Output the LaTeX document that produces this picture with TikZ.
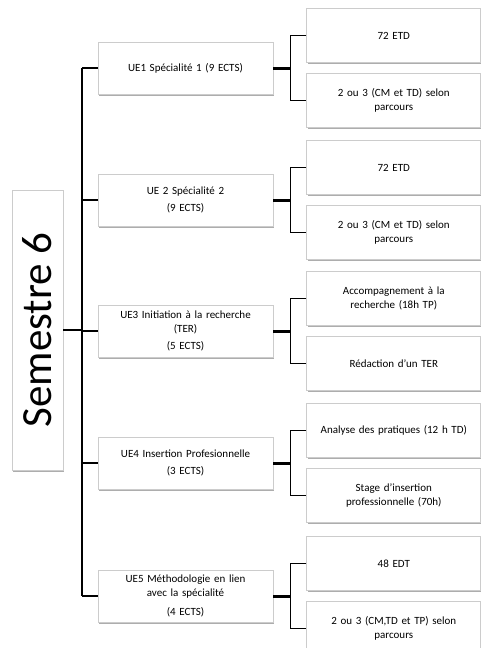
\documentclass[tikz,border=0pt]{standalone}
\usepackage{fontspec}
\setmainfont{Carlito}
\usetikzlibrary{positioning, shadows}
\tikzset{
  box/.style    = {draw=gray!40, fill=white, line width=0.8pt, align=center,
                   font=\fontsize{11}{13.4}\selectfont,
                   drop shadow={shadow xshift=1.2pt, shadow yshift=-1.8pt,
                                fill=black!40, opacity=0.8}},
  uebox/.style  = {box, text width=167pt, inner xsep=4pt, minimum height=52pt},
  subbox/.style = {box, text width=166pt, inner xsep=4pt, minimum height=54pt},
  trunk/.style  = {line width=2.4pt},
  fork/.style   = {line width=1.8pt},
  stub/.style   = {line width=3pt}
}

\begin{document}
\begin{tikzpicture}[x=1pt, y=-1pt]
  \useasboundingbox (0,0) rectangle (481,648);
  % root
  \node[box, minimum width=51pt, minimum height=280pt, inner sep=0pt] (sem) at (37.5,330)
    {\rotatebox{90}{\fontsize{43}{50}\selectfont Semestre 6}};
  \coordinate (tr) at (82,0);
  % teaching units
  \node[uebox] (ue1) at (185.5,68)  {UE1 Spécialité 1 (9 ECTS)};
  \node[uebox] (ue2) at (185.5,200) {UE 2 Spécialité 2\\[4pt](9 ECTS)};
  \node[uebox] (ue3) at (185.5,331) {UE3 Initiation à la recherche\\(TER)\\[4pt](5 ECTS)};
  \node[uebox] (ue4) at (185.5,463) {UE4 Insertion Profesionnelle\\[4pt](3 ECTS)};
  \node[uebox] (ue5) at (185.5,596) {UE5 Méthodologie en lien\\avec la spécialité\\[6pt](4 ECTS)};
  % details
  \node[subbox, right=33pt of ue1, yshift= 32.5pt] (ue1a) {72 ETD};
  \node[subbox, right=33pt of ue1, yshift=-32.5pt] (ue1b) {2 ou 3 (CM et TD) selon\\parcours};
  \node[subbox, right=33pt of ue2, yshift= 32.5pt] (ue2a) {72 ETD};
  \node[subbox, right=33pt of ue2, yshift=-32.5pt] (ue2b) {2 ou 3 (CM et TD) selon\\parcours};
  \node[subbox, right=33pt of ue3, yshift= 32.5pt] (ue3a) {Accompagnement à la\\recherche (18h TP)};
  \node[subbox, right=33pt of ue3, yshift=-32.5pt] (ue3b) {Rédaction d’un TER};
  \node[subbox, right=33pt of ue4, yshift= 32.5pt] (ue4a) {\mbox{Analyse des pratiques (12 h TD)}};
  \node[subbox, right=33pt of ue4, yshift=-32.5pt] (ue4b) {Stage d’insertion\\professionnelle (70h)};
  \node[subbox, right=33pt of ue5, yshift= 32.5pt] (ue5a) {48 EDT};
  \node[subbox, right=33pt of ue5, yshift=-32.5pt] (ue5b) {2 ou 3 (CM,TD et TP) selon\\parcours};
  % trunk
  \draw[trunk] (sem.east) -- (sem.east -| tr);
  \draw[trunk] (ue1.west -| tr) -- (ue5.west -| tr);
  \draw[trunk] (ue1.west -| tr) -- (ue1.west);
  \draw[trunk] (ue2.west -| tr) -- (ue2.west);
  \draw[trunk] (ue3.west -| tr) -- (ue3.west);
  \draw[trunk] (ue4.west -| tr) -- (ue4.west);
  \draw[trunk] (ue5.west -| tr) -- (ue5.west);
  % forks
  \draw[stub] (ue1.east) -- ++(17,0) coordinate (f1);
  \draw[stub] (ue2.east) -- ++(17,0) coordinate (f2);
  \draw[stub] (ue3.east) -- ++(17,0) coordinate (f3);
  \draw[stub] (ue4.east) -- ++(17,0) coordinate (f4);
  \draw[stub] (ue5.east) -- ++(17,0) coordinate (f5);
  \draw[fork] (ue1a.west) -| (f1) |- (ue1b.west);
  \draw[fork] (ue2a.west) -| (f2) |- (ue2b.west);
  \draw[fork] (ue3a.west) -| (f3) |- (ue3b.west);
  \draw[fork] (ue4a.west) -| (f4) |- (ue4b.west);
  \draw[fork] (ue5a.west) -| (f5) |- (ue5b.west);
\end{tikzpicture}
\end{document}
